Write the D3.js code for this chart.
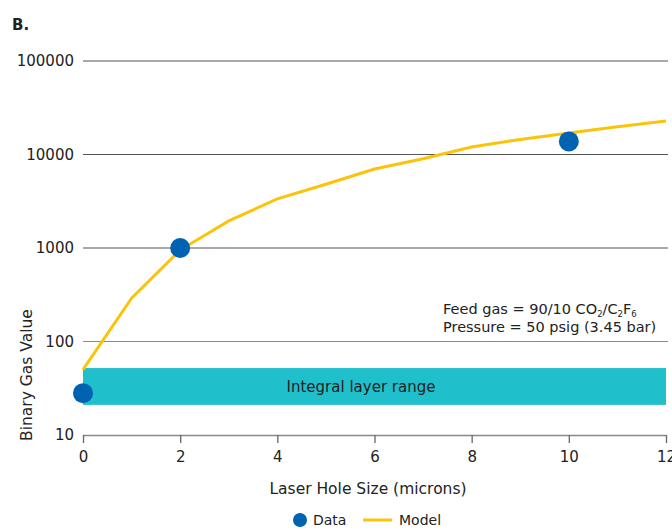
<!DOCTYPE html>
<html>
<head>
<meta charset="utf-8">
<script src="https://cdn.jsdelivr.net/npm/d3@7/dist/d3.min.js"></script>
<style>
  html, body { margin: 0; padding: 0; background: #fff; }
  svg { display: block; font-family: "DejaVu Sans", Verdana, sans-serif; }
</style>
</head>
<body>
<svg id="chart" width="672" height="531"></svg>
<script>
// Measured binary gas values by laser hole size
const dataX = [0, 2, 10];
const dataY = [28, 1000, 13800];

// Model curve
const modelX = [0, 1, 2, 3, 4, 5, 6, 7, 8, 9, 10, 11, 12];
const modelY = [50, 290, 950, 1950, 3350, 4800, 7000, 9000, 12000, 14500, 17000, 19800, 22800];

// Integral layer range band (binary gas value bounds)
const bandRange = [21, 52];

const xTicks = [0, 2, 4, 6, 8, 10, 12];
const yTicks = [10, 100, 1000, 10000, 100000];

const svg = d3.select("#chart");
const margin = { left: 83, right: 6, top: 61, bottom: 96 };
const W = 672, H = 531;

const x = d3.scaleLinear().domain([0, 12]).range([margin.left, W - margin.right]);
const y = d3.scaleLog().domain([10, 100000]).range([H - margin.bottom, margin.top]);

const textColor = "#222";

// Panel label
svg.append("text").attr("x", 12).attr("y", 30)
  .attr("font-size", 15).attr("font-weight", "bold").attr("fill", textColor)
  .text("B.");

// Horizontal gridlines (above the baseline)
svg.append("g").selectAll("line")
  .data(yTicks.filter(d => d > 10))
  .join("line")
  .attr("x1", x(0)).attr("x2", x(12) + 2)
  .attr("y1", d => y(d)).attr("y2", d => y(d))
  .attr("stroke", d => d === 100 ? "#8a8a8a" : "#555")
  .attr("stroke-width", 1.2);

// Y tick labels
svg.append("g").selectAll("text")
  .data(yTicks)
  .join("text")
  .attr("x", 74).attr("y", d => y(d))
  .attr("dy", "0.35em")
  .attr("text-anchor", "end")
  .attr("font-size", 15).attr("fill", textColor)
  .text(d => d3.format("d")(d));

// Integral layer range band
svg.append("rect")
  .attr("x", x(0)).attr("width", x(12) - x(0))
  .attr("y", y(bandRange[1])).attr("height", y(bandRange[0]) - y(bandRange[1]))
  .attr("fill", "#20bfcc");
svg.append("text")
  .attr("x", 361).attr("y", y(Math.sqrt(bandRange[0] * bandRange[1])))
  .attr("dy", "0.35em").attr("text-anchor", "middle")
  .attr("font-size", 15).attr("fill", textColor)
  .text("Integral layer range");

// X axis
const xAxis = svg.append("g")
  .attr("transform", `translate(0,${y(10)})`)
  .call(d3.axisBottom(x).tickValues(xTicks).tickSize(8).tickPadding(8).tickSizeOuter(0));
xAxis.select(".domain").attr("stroke", "#888").attr("stroke-width", 1.5);
xAxis.selectAll(".tick line").attr("stroke", "#666").attr("stroke-width", 1.3);
xAxis.selectAll(".tick text")
  .attr("font-size", 15).attr("fill", textColor)
  .attr("font-family", "DejaVu Sans, Verdana, sans-serif");

// Model line
const line = d3.line().x((d, i) => x(modelX[i])).y(d => y(d));
svg.append("path")
  .datum(modelY)
  .attr("d", line)
  .attr("fill", "none")
  .attr("stroke", "#fcc30b")
  .attr("stroke-width", 3);

// Data points
svg.append("g").selectAll("circle")
  .data(dataX.map((d, i) => [d, dataY[i]]))
  .join("circle")
  .attr("cx", d => x(d[0])).attr("cy", d => y(d[1]))
  .attr("r", 10)
  .attr("fill", "#0063b2");

// Annotation
const note = svg.append("text")
  .attr("x", 443).attr("y", 314)
  .attr("font-size", 14.5).attr("fill", textColor);
note.append("tspan").text("Feed gas = 90/10 CO");
note.append("tspan").attr("font-size", 8.5).attr("dy", 3).text("2");
note.append("tspan").attr("dy", -3).text("/C");
note.append("tspan").attr("font-size", 8.5).attr("dy", 3).text("2");
note.append("tspan").attr("dy", -3).text("F");
note.append("tspan").attr("font-size", 8.5).attr("dy", 3).text("6");
svg.append("text")
  .attr("x", 443).attr("y", 332)
  .attr("font-size", 14.5).attr("fill", textColor)
  .text("Pressure = 50 psig (3.45 bar)");

// Axis titles
svg.append("text")
  .attr("x", 368).attr("y", 494)
  .attr("text-anchor", "middle")
  .attr("font-size", 15.5).attr("fill", textColor)
  .text("Laser Hole Size (microns)");
svg.append("text")
  .attr("transform", `translate(32,375) rotate(-90)`)
  .attr("text-anchor", "middle")
  .attr("font-size", 15.5).attr("fill", textColor)
  .text("Binary Gas Value");

// Legend
const legend = svg.append("g");
legend.append("circle").attr("cx", 300).attr("cy", 520).attr("r", 7).attr("fill", "#0063b2");
legend.append("text").attr("x", 313).attr("y", 520).attr("dy", "0.35em")
  .attr("font-size", 14).attr("fill", textColor).text("Data");
legend.append("line").attr("x1", 363).attr("x2", 392).attr("y1", 520).attr("y2", 520)
  .attr("stroke", "#fcc30b").attr("stroke-width", 3);
legend.append("text").attr("x", 399).attr("y", 520).attr("dy", "0.35em")
  .attr("font-size", 14).attr("fill", textColor).text("Model");
</script>
</body>
</html>
